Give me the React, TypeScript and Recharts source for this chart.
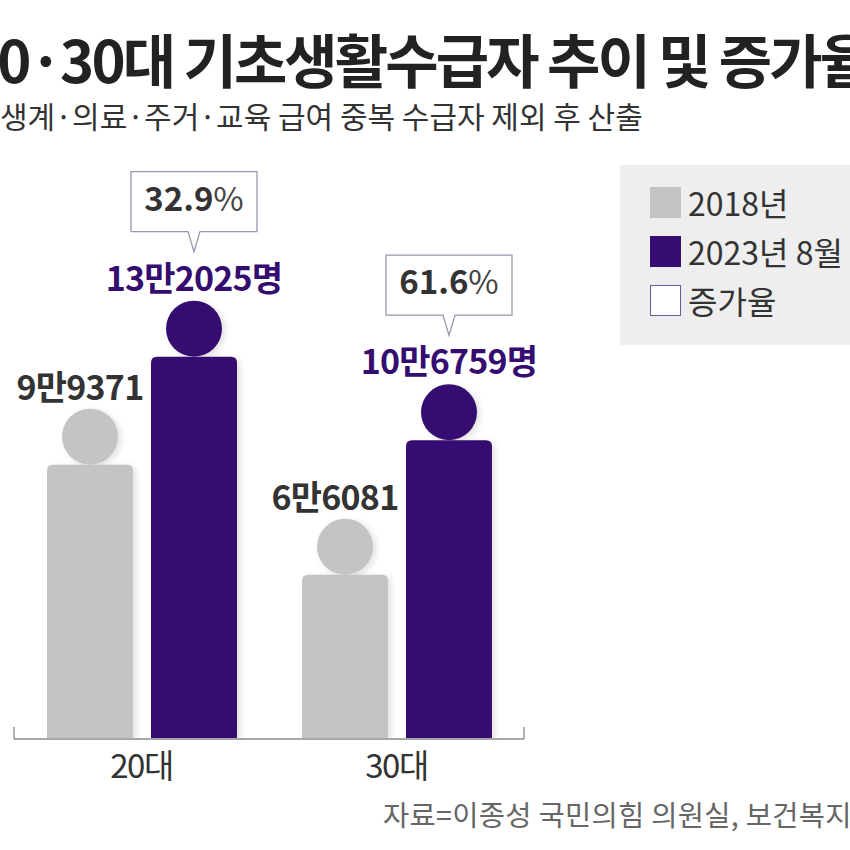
import { Bar, BarChart, LabelList, Legend, XAxis, YAxis } from "recharts";

// values (persons)
const categories = ["20대", "30대"];
const values2018 = [99371, 66081];
const values2023 = [132025, 106759];
const growthRates = [32.9, 61.6];

const legendItems = [
  { label: "2018년", fill: "#c4c4c4", stroke: "#c4c4c4" },
  { label: "2023년 8월", fill: "#350d70", stroke: "#350d70" },
  { label: "증가율", fill: "#ffffff", stroke: "#6d5a9c" },
];

const TITLE = "20·30대 기초생활수급자 추이 및 증가율";
const SUBTITLE = "생계·의료·주거·교육 급여 중복 수급자 제외 후 산출";
const SOURCE = "자료=이종성 국민의힘 의원실, 보건복지부";

const FONT = "'Noto Sans CJK KR', 'Noto Sans', sans-serif";
const GRAY = "#c4c4c4";
const PURPLE = "#350d70";
const HEAD_R = 28;

const data = categories.map((name, i) => ({
  name,
  y2018: values2018[i],
  y2023: values2023[i],
}));

/** 99371 -> "9만9371" */
function manLabel(v: number): string {
  const man = Math.floor(v / 10000);
  const rest = v % 10000;
  return `${man}만${String(rest).padStart(4, "0")}`;
}

function box(p: any) {
  const vb = p.viewBox ?? {};
  return {
    x: Number(p.x ?? vb.x),
    y: Number(p.y ?? vb.y),
    width: Number(p.width ?? vb.width),
  };
}

// bar drawn as a person: rounded body + round head
function PersonBar(props: any) {
  const { x, y, width, height, fill } = props;
  if (!width || height == null) return <g />;
  const r = 6;
  const d = `M${x},${y + height} V${y + r} Q${x},${y} ${x + r},${y} H${x + width - r} Q${x + width},${y} ${x + width},${y + r} V${y + height} Z`;
  return (
    <g style={{ filter: "drop-shadow(3px 2px 3px rgba(0,0,0,0.12))" }}>
      <circle cx={x + width / 2} cy={y - HEAD_R} r={HEAD_R} fill={fill} />
      <path d={d} fill={fill} />
    </g>
  );
}

function GrayLabel(p: any) {
  const { x, y, width } = box(p);
  return (
    <text
      x={x + width / 2 - 10}
      y={y - 65}
      textAnchor="middle"
      fontSize={34}
      fontWeight={700}
      letterSpacing={-0.8}
      fill="#333"
      fontFamily={FONT}
    >
      {manLabel(Number(p.value))}
    </text>
  );
}

function PurpleLabel(p: any) {
  const { x, y, width } = box(p);
  const idx = p.index ?? values2023.indexOf(Number(p.value));
  const rate = growthRates[idx] ?? 0;
  const cx = x + width / 2;
  const bottom = y - 125;
  const top = bottom - 60;
  const left = cx - 63;
  const right = cx + 63;
  const tip = bottom + 20;
  return (
    <g fontFamily={FONT}>
      <path
        d={`M${left},${top} H${right} V${bottom} H${cx + 6} L${cx},${tip} L${cx - 6},${bottom} H${left} Z`}
        fill="#fff"
        stroke="#9c95ad"
        strokeWidth={1.3}
      />
      <text x={cx} y={bottom - 21} textAnchor="middle" fontSize={33} fill="#333">
        <tspan fontWeight={700}>{rate.toFixed(1)}</tspan>
        <tspan fontWeight={400} fill="#444">%</tspan>
      </text>
      <text
        x={cx}
        y={y - 66}
        textAnchor="middle"
        fontSize={34}
        fontWeight={700}
        letterSpacing={-0.8}
        fill={PURPLE}
      >
        {manLabel(Number(p.value))}명
      </text>
    </g>
  );
}

function CatTick(props: any) {
  const { x, y, payload } = props;
  return (
    <text
      x={x}
      y={y + 40}
      textAnchor="middle"
      fontSize={33}
      letterSpacing={-1.5}
      fill="#333"
      fontFamily={FONT}
    >
      {payload.value}
    </text>
  );
}

const NoTick = () => <g />;

function LegendBox() {
  return (
    <div
      style={{
        width: "100%",
        height: "100%",
        background: "#eeeeee",
        boxSizing: "border-box",
        padding: "22px 0 0 30px",
        fontFamily: FONT,
      }}
    >
      {legendItems.map((it) => (
        <div
          key={it.label}
          style={{ display: "flex", alignItems: "center", height: 31, marginBottom: 18 }}
        >
          <span
            style={{
              width: 31,
              height: 31,
              flex: "none",
              boxSizing: "border-box",
              background: it.fill,
              border: `1.5px solid ${it.stroke}`,
              marginRight: 7,
            }}
          />
          <span style={{ fontSize: 32, lineHeight: "31px", color: "#333", whiteSpace: "nowrap" }}>
            {it.label}
          </span>
        </div>
      ))}
    </div>
  );
}

export default function App() {
  return (
    <div
      style={{
        position: "absolute",
        left: 0,
        top: 0,
        width: 850,
        height: 850,
        overflow: "hidden",
        background: "#fff",
        fontFamily: FONT,
      }}
    >
      <svg
        width={850}
        height={850}
        style={{ position: "absolute", left: 0, top: 0, pointerEvents: "none" }}
      >
        <text
          x={-34}
          y={83}
          fontSize={58}
          fontWeight={700}
          letterSpacing={-2.9}
          fill="#222"
          fontFamily={FONT}
        >
          {TITLE}
        </text>
        <text x={0} y={128} fontSize={30} fill="#333" fontFamily={FONT}>
          {SUBTITLE}
        </text>
        <text x={383} y={826} fontSize={28.5} letterSpacing={0.3} fill="#666" fontFamily={FONT}>
          {SOURCE}
        </text>
      </svg>

      <div style={{ position: "absolute", left: 0, top: 0 }}>
        <BarChart
          width={850}
          height={850}
          data={data}
          margin={{ top: 160, right: 326, bottom: 110, left: 14 }}
          barSize={86}
          barGap={18}
        >
          <XAxis
            xAxisId="frame"
            type="number"
            domain={[0, 2]}
            ticks={[0, 1, 2]}
            allowDataOverflow
            height={1}
            tick={NoTick}
            tickSize={-12}
            axisLine={{ stroke: "#8a8a8a", strokeWidth: 1.3 }}
            tickLine={{ stroke: "#8a8a8a", strokeWidth: 1.3 }}
          />
          <XAxis
            xAxisId="cat"
            dataKey="name"
            height={1}
            interval={0}
            axisLine={false}
            tickLine={false}
            tickSize={0}
            tickMargin={0}
            tick={<CatTick />}
          />
          <YAxis domain={[16700, 191500]} allowDataOverflow hide />
          <Legend
            layout="horizontal"
            verticalAlign="middle"
            align="center"
            content={() => <LegendBox />}
            wrapperStyle={{ left: 620, top: 165, width: 240, height: 180 }}
          />
          <Bar
            xAxisId="cat"
            dataKey="y2018"
            name="2018년"
            fill={GRAY}
            shape={<PersonBar />}
            isAnimationActive={false}
          >
            <LabelList dataKey="y2018" content={<GrayLabel />} />
          </Bar>
          <Bar
            xAxisId="cat"
            dataKey="y2023"
            name="2023년 8월"
            fill={PURPLE}
            shape={<PersonBar />}
            isAnimationActive={false}
          >
            <LabelList dataKey="y2023" content={<PurpleLabel />} />
          </Bar>
        </BarChart>
      </div>
    </div>
  );
}
